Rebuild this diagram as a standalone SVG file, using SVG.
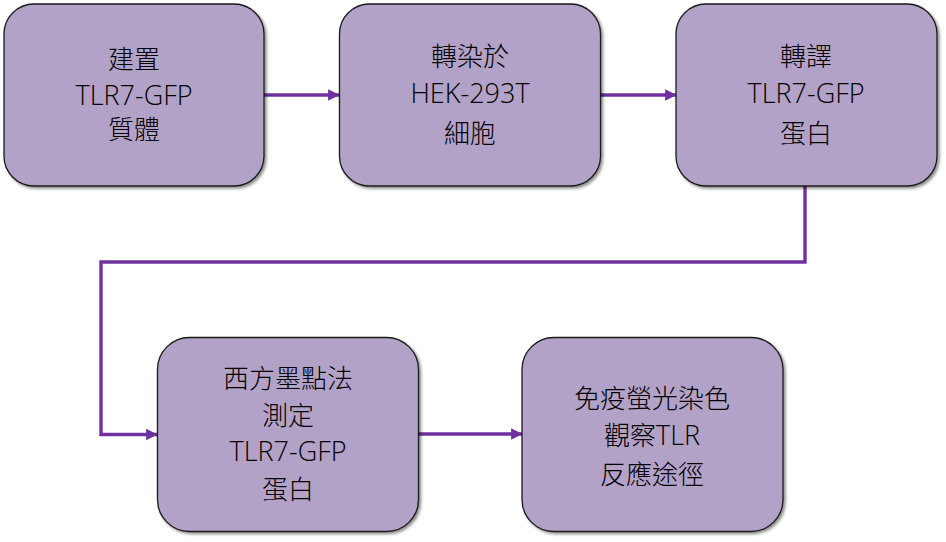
<svg xmlns="http://www.w3.org/2000/svg" width="946" height="542" viewBox="0 0 946 542">
<defs>
<style>
.box{fill:#B3A2C7;stroke:#1a1a1a;stroke-width:1.3;filter:url(#sh);}
.t{font-family:"Open Sans","Noto Sans CJK TC",sans-serif;font-size:26px;font-weight:300;fill:#000;text-anchor:middle;}
.l{font-size:27px;}
.c{fill:none;stroke:#7030A0;stroke-width:3.4;marker-end:url(#ah);}
</style>
<filter id="sh" x="-10%" y="-10%" width="120%" height="120%">
<feGaussianBlur in="SourceAlpha" stdDeviation="1.5"/>
<feOffset dx="2" dy="2" result="b"/>
<feComponentTransfer><feFuncA type="linear" slope="0.45"/></feComponentTransfer>
<feMerge><feMergeNode/><feMergeNode in="SourceGraphic"/></feMerge>
</filter>
<marker id="ah" markerWidth="3.4" markerHeight="3.4" refX="3.2" refY="1.7" orient="auto" markerUnits="strokeWidth">
<path d="M0,0 L3.4,1.7 L0,3.4 Z" fill="#7030A0"/>
</marker>
</defs>
<rect width="946" height="542" fill="#fff"/>
<g id="connectors">
<path class="c" d="M264,95 H339"/>
<path class="c" d="M601,95 H676"/>
<path class="c" d="M805,186 V262 H101 V434.5 H157"/>
<path class="c" d="M418,434 H522"/>
</g>
<g id="n1">
<rect class="box" x="4" y="4" width="260" height="182" rx="30"/>
<text class="t" x="134" y="69">建置</text>
<text class="t l" x="134" y="105">TLR7-GFP</text>
<text class="t" x="134" y="139">質體</text>
</g>
<g id="n2">
<rect class="box" x="339.5" y="4" width="261" height="182" rx="30"/>
<text class="t" x="470" y="66">轉染於</text>
<text class="t l" x="470" y="103">HEK-293T</text>
<text class="t" x="470" y="143">細胞</text>
</g>
<g id="n3">
<rect class="box" x="676" y="4" width="261" height="182" rx="30"/>
<text class="t" x="806" y="66">轉譯</text>
<text class="t l" x="806" y="103">TLR7-GFP</text>
<text class="t" x="806" y="143">蛋白</text>
</g>
<g id="n4">
<rect class="box" x="157.5" y="337.5" width="261" height="194" rx="32"/>
<text class="t" x="288" y="388">西方墨點法</text>
<text class="t" x="288" y="425">測定</text>
<text class="t l" x="288" y="461">TLR7-GFP</text>
<text class="t" x="288" y="499">蛋白</text>
</g>
<g id="n5">
<rect class="box" x="522" y="337.5" width="261" height="194" rx="32"/>
<text class="t" x="652" y="408">免疫螢光染色</text>
<text class="t" x="652" y="445">觀察<tspan class="l">TLR</tspan></text>
<text class="t" x="652" y="484">反應途徑</text>
</g>
</svg>
